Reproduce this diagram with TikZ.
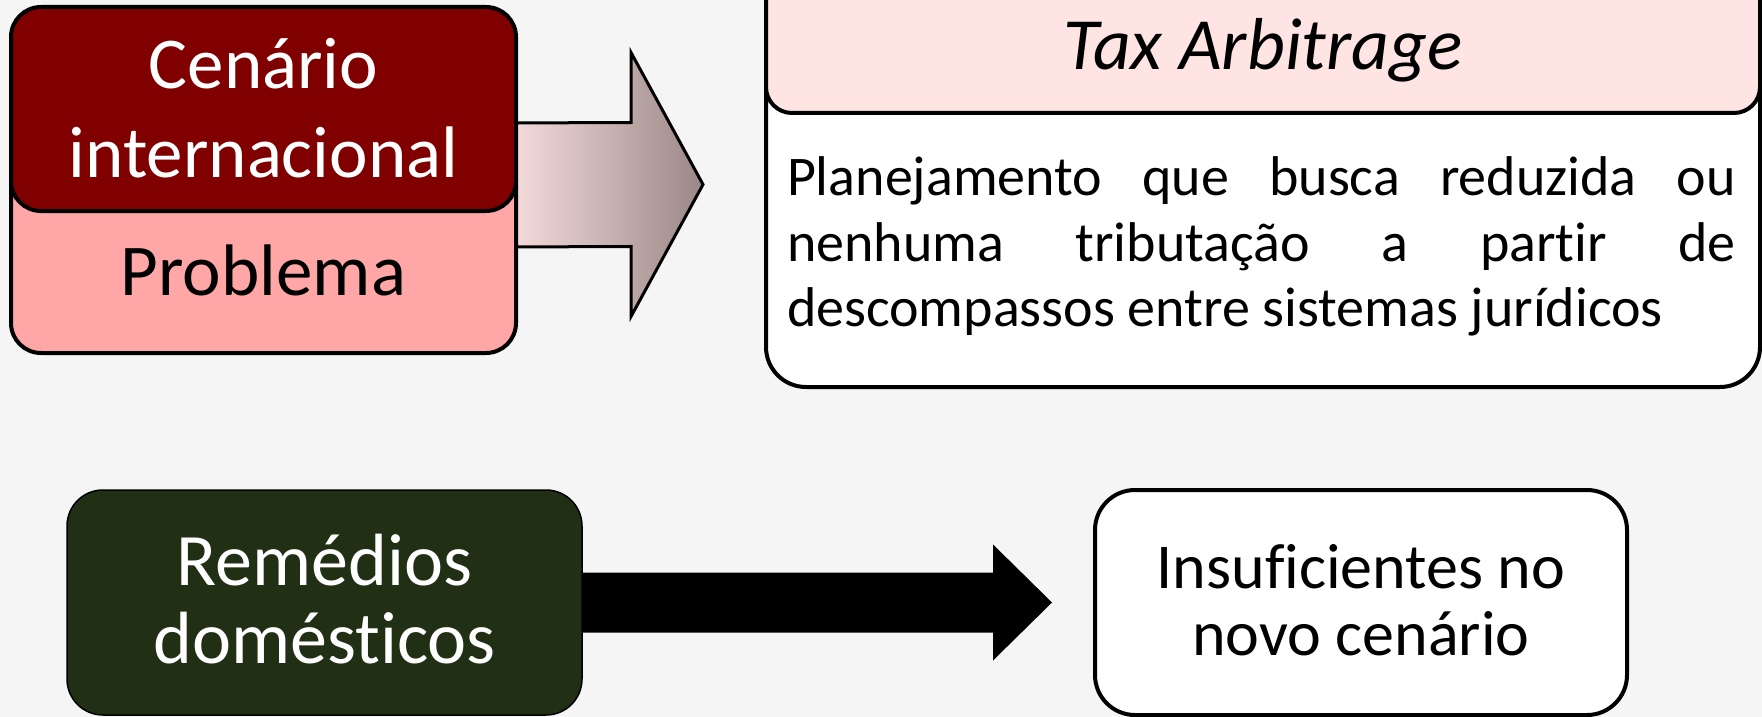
\documentclass[tikz,border=0pt]{standalone}
\usepackage{fontspec}
\setmainfont[RawFeature={-liga;-clig}]{Carlito}
\usetikzlibrary{calc}
\definecolor{bgc}{HTML}{F5F5F5}
\definecolor{darkredc}{HTML}{800000}
\definecolor{pinkc}{HTML}{FFA7A7}
\definecolor{headc}{HTML}{FFE4E4}
\definecolor{greenc}{HTML}{213015}
\definecolor{gradl}{HTML}{F9DFDF}
\definecolor{gradr}{HTML}{9A8787}
\tikzset{
  boxs/.style={draw=black, rectangle, inner sep=0pt},
  txt/.style={inner sep=0pt, align=center},
  gradarrow/.style={draw=black, line width=1.5pt, line join=miter, left color=gradl, right color=gradr},
}
\begin{document}
\begin{tikzpicture}[x=0.5pt,y=-0.5pt]
\useasboundingbox (0,0) rectangle (1762,717);
\clip (0,0) rectangle (1762,717);
\fill[bgc] (0,0) rectangle (1762,717);

% Tax Arbitrage
\node[boxs, fill=white, line width=2pt, rounded corners=20pt, minimum width=497pt, minimum height=213.5pt] (taxbody) at (1263,173.5) {};
\node[boxs, fill=headc, line width=2pt, rounded corners=13pt, minimum width=497pt, minimum height=76.5pt] (taxhead) at (1263,36.5) {};
% bottom right box
\node[boxs, fill=white, line width=2pt, rounded corners=20pt, minimum width=266pt, minimum height=112.5pt] (ins) at (1361,602.5) {};

% gradient arrow (drawn first, boxes cover its start)
\coordinate (s1) at (516,185);
\coordinate (tip1) at ($(taxbody.west)+(-61,11)$);
\draw[gradarrow] ($(s1)+(-10,-62)$) -- ($(tip1)+(-72,-62)$) -- ($(tip1)+(-72,-132)$) -- (tip1)
  -- ($(tip1)+(-72,132)$) -- ($(tip1)+(-72,62)$) -- ($(s1)+(-10,62)$) -- cycle;

% top-left boxes
\node[boxs, fill=pinkc, line width=2pt, rounded corners=15pt, minimum width=252.5pt, minimum height=101.5pt] (prob) at (263.5,251.5) {};
\node[boxs, fill=darkredc, line width=2pt, rounded corners=15pt, minimum width=252.5pt, minimum height=102pt] (cen) at (263.5,109) {};

% black arrow
\coordinate (tip2) at ($(ins.west)+(-41,0)$);
\node[boxs, fill=greenc, line width=0.75pt, rounded corners=18pt, minimum width=257.5pt, minimum height=112.5pt] (rem) at (324.5,602.5) {};
\fill[black] ($(rem.east)+(0,-30)$) -- ($(tip2)+(-59,-30)$) -- ($(tip2)+(-59,-58)$) -- (tip2)
  -- ($(tip2)+(-59,58)$) -- ($(tip2)+(-59,30)$) -- ($(rem.east)+(0,30)$) -- cycle;

% texts
\node[txt, text=white, font=\fontsize{36.5}{44.5}\selectfont] (tcen) at (263.5,115.7) {\strut Cenário\\ internacional\strut};
\node[txt, anchor=base, font=\fontsize{36.5}{44.5}\selectfont] (tprob) at (263.5,295) {Problema};
\node[txt, anchor=base, font=\fontsize{36.8}{43}\selectfont\itshape] (ttax) at (1263,70) {Tax Arbitrage};
\node[inner sep=0pt, text width=474.5pt, align=justify, font=\fontsize{28}{33}\selectfont] (tpar) at (1261.5,247.8)
  {\tolerance=10000\hyphenpenalty=10000\strut Planejamento que busca reduzida ou\linebreak nenhuma tributação a partir de\linebreak descompassos entre sistemas jurídicos\strut};
\node[txt, text=white, font=\fontsize{37}{39}\selectfont] (trem) at (324.5,608.4) {\strut Remédios\\ domésticos\strut};
\node[txt, font=\fontsize{32}{33.5}\selectfont] (tins) at (1361,608.1) {\strut Insuficientes no\\ novo cenário\strut};
\end{tikzpicture}
\end{document}
